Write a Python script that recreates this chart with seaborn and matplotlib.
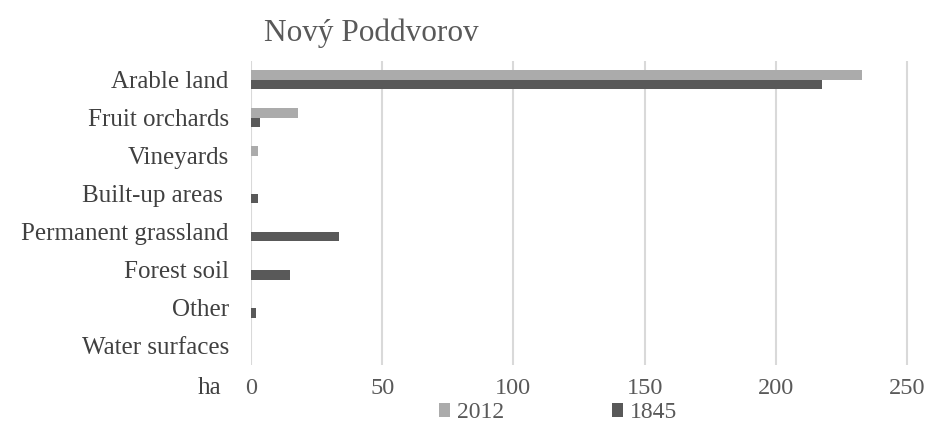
import matplotlib
matplotlib.use("Agg")
import matplotlib.pyplot as plt
import seaborn as sns
import pandas as pd

categories = ["Arable land", "Fruit orchards", "Vineyards", "Built-up areas ",
              "Permanent grassland", "Forest soil", "Other", "Water surfaces"]
values_2012 = [233, 18, 2.5, 0, 0, 0, 0, 0]
values_1845 = [217.5, 3.5, 0, 2.8, 33.7, 15, 1.8, 0]
series = ["2012", "1845"]
xticks = [0, 50, 100, 150, 200, 250]

df = pd.DataFrame({
    "category": categories * 2,
    "ha": values_2012 + values_1845,
    "year": [series[0]] * len(categories) + [series[1]] * len(categories),
})

sns.set_theme(style="white")
plt.rcParams["font.family"] = ["Liberation Serif", "DejaVu Serif"]

fig = plt.figure(figsize=(9.3, 4.25), dpi=100)
ax = fig.add_axes([251 / 930, 1 - 365 / 425, (910 - 251) / 930, (365 - 61) / 425])

sns.barplot(data=df, y="category", x="ha", hue="year", orient="h",
            palette={"2012": "#ababab", "1845": "#595959"}, width=0.5,
            ax=ax, legend=True, saturation=1, linewidth=0)

ax.set_xlim(0, 250 * (910 - 251) / (907 - 251))
ax.set_xticks(xticks)
ax.set_xticklabels([str(t) for t in xticks], fontsize=17.5, color="#595959")
ax.tick_params(axis="x", length=0, pad=9)
ax.tick_params(axis="y", length=0, pad=16, labelsize=18, labelcolor="#404040")
ax.grid(axis="x", color="#d9d9d9", linewidth=1.5)
ax.set_axisbelow(True)
for s in ax.spines.values():
    s.set_visible(False)
ax.set_ylabel("")
ax.set_xlabel("")
fig.text(210 / 930, 1 - 388 / 425, "ha", fontsize=18, color="#404040",
         ha="center", va="center")
fig.text(371 / 930, 1 - 33 / 425, "Nový Poddvorov", fontsize=22.5, color="#595959",
         ha="center", va="center")

leg = ax.legend(loc="center", bbox_to_anchor=(558 / 930, 1 - 413 / 425),
                bbox_transform=fig.transFigure, ncol=2, frameon=False,
                fontsize=17, handlelength=0.45, handleheight=0.5,
                columnspacing=4.6, handletextpad=0.28, borderpad=0, borderaxespad=0)
for t in leg.get_texts():
    t.set_color("#595959")

fig.savefig("out.png", dpi=100)
